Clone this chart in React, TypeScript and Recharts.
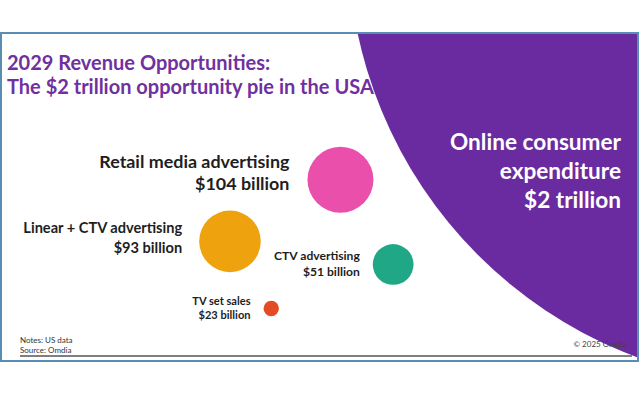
import React from 'react'
import { ScatterChart, Scatter, XAxis, YAxis, ZAxis, Cell, ReferenceDot } from 'recharts'

// bubble data (positions are in abstract 0-100 layout units)
const NAMES = ['Retail media advertising', 'Linear + CTV advertising', 'CTV advertising', 'TV set sales']
const VALUES = [104, 93, 51, 23]
const POS_X = [53.3, 35.9, 61.6, 42.4]
const POS_Y = [55.3, 36.4, 29.3, 15.8]
const COLORS = ['#e94fab', '#eea30e', '#1fa786', '#e54b22']

// the big "pie" behind the bubbles
const PIE_LABEL = ['Online consumer', 'expenditure', '$2 trillion']
const PIE_X = 124.4
const PIE_Y = 128.5

// per-bubble label styling: font size, gap to bubble, baseline offsets
const LABEL_STYLE: Record<string, { fs: number; gap: number; dy1: number; dy2: number }> = {
  'Retail media advertising': { fs: 17.9, gap: 18, dy1: -12, dy2: 10 },
  'Linear + CTV advertising': { fs: 14.6, gap: 17, dy1: -8, dy2: 11.5 },
  'CTV advertising': { fs: 12.1, gap: 13, dy1: -4.5, dy2: 11.5 },
  'TV set sales': { fs: 11.1, gap: 13, dy1: -3.5, dy2: 11 },
}

const data = NAMES.map((name, i) => ({ name, value: VALUES[i], x: POS_X[i], y: POS_Y[i] }))

const FONT = 'Lato, "Open Sans", sans-serif'

function Bubble(props: any) {
  const { cx, cy, size, fill, payload } = props
  const r = Math.sqrt(size / Math.PI)
  const st = LABEL_STYLE[payload.name]
  const tx = cx - r - st.gap
  return (
    <g>
      <circle cx={cx} cy={cy} r={r} fill={fill} />
      <text textAnchor="end" fontFamily={FONT} fontWeight={700} fontSize={st.fs} fill="#1e1e1e">
        <tspan x={tx} y={cy + st.dy1}>{payload.name}</tspan>
        <tspan x={tx} y={cy + st.dy2}>{`$${payload.value} billion`}</tspan>
      </text>
    </g>
  )
}

export default function App() {
  return (
    <div style={{ position: 'absolute', left: 0, top: 0, width: 640, height: 394, background: '#fff', fontFamily: FONT }}>
      {/* slide frame */}
      <div
        style={{
          position: 'absolute', left: 0, top: 32, width: 639, height: 330,
          border: '2px solid #5a8db2', boxSizing: 'border-box', overflow: 'hidden',
        }}
      >
        <ScatterChart width={635} height={326} margin={{ top: 0, right: 0, bottom: 0, left: 0 }}>
          <XAxis type="number" dataKey="x" domain={[0, 100]} hide />
          <YAxis type="number" dataKey="y" domain={[0, 100]} hide />
          <ZAxis type="number" dataKey="value" domain={[23, 104]} range={[186, 3420]} />
          <ReferenceDot x={PIE_X} y={PIE_Y} r={444} fill="#6a2ba0" stroke="none" ifOverflow="visible" />
          <Scatter data={data} shape={Bubble} isAnimationActive={false}>
            {data.map((d, i) => (
              <Cell key={d.name} fill={COLORS[i]} />
            ))}
          </Scatter>
        </ScatterChart>
      </div>

      {/* title */}
      <div
        style={{
          position: 'absolute', left: 7, top: 50, fontSize: 20, lineHeight: '24px',
          fontWeight: 700, color: '#7030a0', whiteSpace: 'nowrap',
        }}
      >
        <div>2029 Revenue Opportunities:</div>
        <div>The $2 trillion opportunity pie in the USA</div>
      </div>

      {/* pie label */}
      <div
        style={{
          position: 'absolute', right: 19, top: 127, fontSize: 22.6, lineHeight: '29px',
          fontWeight: 700, color: '#fff', textAlign: 'right', whiteSpace: 'nowrap',
        }}
      >
        {PIE_LABEL.map((t) => <div key={t}>{t}</div>)}
      </div>

      {/* footer */}
      <div style={{ position: 'absolute', left: 20, top: 336, fontSize: 8, lineHeight: '9.6px', color: '#333' }}>
        <div>Notes: US data</div>
        <div>Source: Omdia</div>
      </div>
      <div style={{ position: 'absolute', right: 14, top: 340, fontSize: 8, lineHeight: '9px', color: '#444' }}>
        © 2025 Omdia
      </div>
      <div style={{ position: 'absolute', left: 20, top: 355, width: 612, height: 1.5, background: '#7f7f7f' }} />
    </div>
  )
}
